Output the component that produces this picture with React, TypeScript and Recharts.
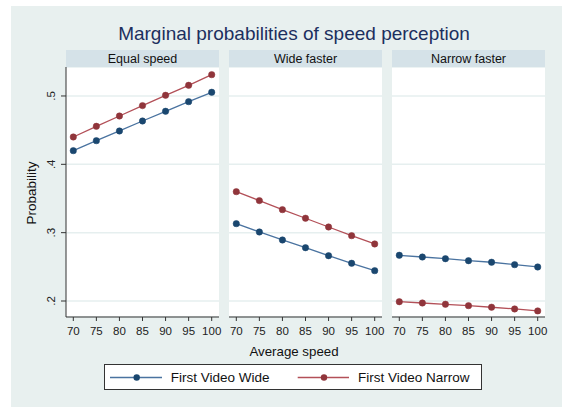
import React from "react";
import { LineChart, Line, XAxis, YAxis, CartesianGrid } from "recharts";

const speeds = [70, 75, 80, 85, 90, 95, 100];
const panelTitles = ["Equal speed", "Wide faster", "Narrow faster"];
const seriesNames = ["First Video Wide", "First Video Narrow"];

const equalWide = [0.420, 0.4346, 0.4488, 0.4634, 0.4776, 0.4917, 0.5054];
const equalNarrow = [0.440, 0.4556, 0.4707, 0.4859, 0.5010, 0.5156, 0.5312];
const wideWide = [0.3132, 0.3010, 0.2893, 0.2780, 0.2663, 0.2552, 0.2444];
const wideNarrow = [0.3600, 0.3469, 0.3337, 0.3211, 0.3083, 0.2956, 0.2835];
const narrowWide = [0.2669, 0.2644, 0.2619, 0.2590, 0.2567, 0.2532, 0.2498];
const narrowNarrow = [0.1990, 0.1971, 0.1952, 0.1932, 0.1909, 0.1884, 0.1855];

const yTicks = [0.2, 0.3, 0.4, 0.5];
const yTickLabels = [".2", ".3", ".4", ".5"];
const yDomain = [0.1766, 0.5424];

const panelSeries = [
  [equalWide, equalNarrow],
  [wideWide, wideNarrow],
  [narrowWide, narrowNarrow],
];

const FONT = "'Liberation Sans', Arial, Helvetica, sans-serif";
const BLUE = "#1a476f";
const RED = "#90353b";
const BLUE_LINE = "#4a73a0";
const RED_LINE = "#b35058";
const BG = "#e8f0ef";
const STRIP = "#d5e2e8";
const GRID = "#e6efef";
const AXIS = "#333333";

const buildRows = (wide: number[], narrow: number[]) =>
  speeds.map((s, i) => ({ speed: s, wide: wide[i], narrow: narrow[i] }));

const YTick = (props: any) => {
  const { x, y, payload } = props;
  const idx = yTicks.indexOf(payload.value);
  const label = idx >= 0 ? yTickLabels[idx] : String(payload.value);
  return (
    <text
      x={x}
      y={y}
      transform={`rotate(-90 ${x} ${y})`}
      textAnchor="middle"
      fontSize={11.5}
      fontFamily={FONT}
      fill="#222"
    >
      {label}
    </text>
  );
};

// plot layout
const PLOT_TOP = 67;
const PLOT_H = 250;
const XAXIS_H = 30;
const PLOT_W = 153;
const RIGHT_SPACE = 12;
const panelLefts = [66, 229, 392];
const Y_AXIS_W = 36;

function Panel({ idx }: { idx: number }) {
  const [w, n] = panelSeries[idx];
  const rows = buildRows(w, n);
  const first = idx === 0;
  const chartLeft = first ? panelLefts[idx] - Y_AXIS_W : panelLefts[idx];
  const chartW = (first ? PLOT_W + Y_AXIS_W : PLOT_W) + RIGHT_SPACE;
  return (
    <div style={{ position: "absolute", left: chartLeft, top: PLOT_TOP }}>
      <LineChart
        width={chartW}
        height={PLOT_H + XAXIS_H}
        data={rows}
        margin={{ top: 0, right: RIGHT_SPACE, bottom: 0, left: 0 }}
      >
        <CartesianGrid
          vertical={false}
          stroke={GRID}
          strokeWidth={1.5}
          fill="#ffffff"
          fillOpacity={1}
        />
        <XAxis
          dataKey="speed"
          type="number"
          domain={[70, 100]}
          ticks={speeds}
          interval={0}
          padding={{ left: 7.3, right: 7.3 }}
          height={XAXIS_H}
          tickSize={4}
          tickMargin={6}
          axisLine={{ stroke: AXIS, strokeWidth: 1 }}
          tickLine={{ stroke: AXIS, strokeWidth: 1 }}
          tick={{ fontSize: 11.5, fontFamily: FONT, fill: "#222" }}
        />
        <YAxis
          type="number"
          domain={yDomain}
          allowDataOverflow
          ticks={yTicks}
          interval={0}
          hide={!first}
          width={Y_AXIS_W}
          tickSize={5}
          tickMargin={5.5}
          axisLine={{ stroke: AXIS, strokeWidth: 1 }}
          tickLine={{ stroke: AXIS, strokeWidth: 1 }}
          tick={<YTick />}
        />
        <Line
          dataKey="wide"
          name={seriesNames[0]}
          stroke={BLUE_LINE}
          strokeWidth={1.3}
          dot={{ r: 3.2, fill: BLUE, stroke: BLUE, strokeWidth: 0.5 }}
          isAnimationActive={false}
        />
        <Line
          dataKey="narrow"
          name={seriesNames[1]}
          stroke={RED_LINE}
          strokeWidth={1.3}
          dot={{ r: 3.2, fill: RED, stroke: RED, strokeWidth: 0.5 }}
          isAnimationActive={false}
        />
      </LineChart>
    </div>
  );
}

export default function App() {
  return (
    <div
      style={{
        position: "absolute",
        left: 0,
        top: 0,
        width: 562,
        height: 407,
        background: "#ffffff",
        overflow: "hidden",
        fontFamily: FONT,
      }}
    >
      <svg
        width={562}
        height={407}
        style={{ position: "absolute", left: 0, top: 0 }}
      >
        <rect x={11} y={6} width={551} height={401} fill={BG} />
        <text
          x={294}
          y={39.5}
          textAnchor="middle"
          fontSize={19}
          fontFamily={FONT}
          fill="#1c2f5e"
        >
          Marginal probabilities of speed perception
        </text>
        {panelTitles.map((t, i) => (
          <g key={t}>
            <rect x={panelLefts[i]} y={50} width={PLOT_W} height={17} fill={STRIP} />
            <text
              x={panelLefts[i] + PLOT_W / 2}
              y={62.7}
              textAnchor="middle"
              fontSize={12.5}
              fontFamily={FONT}
              fill="#111"
            >
              {t}
            </text>
          </g>
        ))}
        <text
          x={36}
          y={193}
          transform="rotate(-90 36 193)"
          textAnchor="middle"
          fontSize={13.5}
          fontFamily={FONT}
          fill="#111"
        >
          Probability
        </text>
        <text
          x={294}
          y={356}
          textAnchor="middle"
          fontSize={13.3}
          fontFamily={FONT}
          fill="#111"
        >
          Average speed
        </text>
        <rect x={104.5} y={364.5} width={377} height={25} fill="#ffffff" stroke="#333" strokeWidth={1} />
        <line x1={110} y1={377.5} x2={162} y2={377.5} stroke={BLUE_LINE} strokeWidth={1.3} />
        <circle cx={136.7} cy={377.5} r={3.2} fill={BLUE} />
        <text x={170.7} y={382} fontSize={13.5} fontFamily={FONT} fill="#111">
          {seriesNames[0]}
        </text>
        <line x1={297.7} y1={377.5} x2={349} y2={377.5} stroke={RED_LINE} strokeWidth={1.3} />
        <circle cx={324} cy={377.5} r={3.2} fill={RED} />
        <text x={358} y={382} fontSize={13.5} fontFamily={FONT} fill="#111">
          {seriesNames[1]}
        </text>
      </svg>
      {panelTitles.map((t, i) => (
        <Panel key={t} idx={i} />
      ))}
    </div>
  );
}
